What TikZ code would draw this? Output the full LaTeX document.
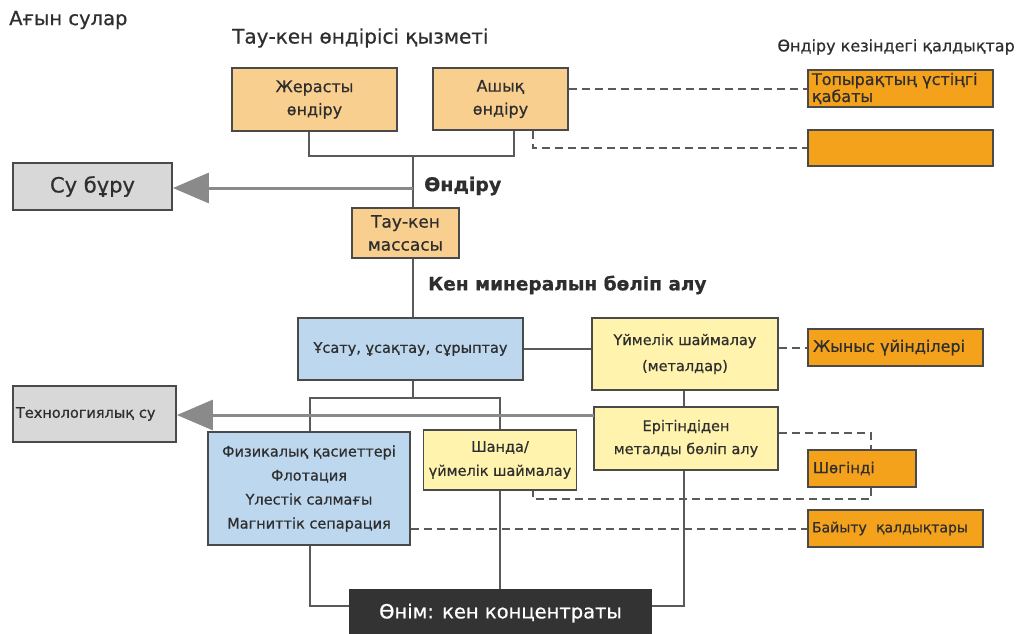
\documentclass[tikz,border=0pt]{standalone}
\usepackage{fontspec}
\setmainfont{DejaVu Sans}[FakeBold=0.6]
\usetikzlibrary{arrows.meta}
\definecolor{lorange}{HTML}{F9CF8F}
\definecolor{dorange}{HTML}{F4A11C}
\definecolor{lblue}{HTML}{BDD8EE}
\definecolor{lyellow}{HTML}{FFF3AD}
\definecolor{lgray}{HTML}{D8D8D8}
\definecolor{darkbox}{HTML}{333333}
\definecolor{txt}{HTML}{2E2E2E}
\definecolor{edge}{HTML}{4A4A4A}
\definecolor{conn}{HTML}{5A5A5A}
\definecolor{arrowgray}{HTML}{8A8A8A}
\tikzset{
  box/.style={draw=edge, line width=1.8pt, inner sep=2pt, text=txt, align=center,
    font=\fontsize{14}{24}\selectfont},
  lobox/.style={box, fill=lorange},
  dobox/.style={box, fill=dorange, align=left, font=\fontsize{16}{17}\selectfont},
  bbox/.style={box, fill=lblue},
  ybox/.style={box, fill=lyellow},
  gbox/.style={box, fill=lgray},
  solidline/.style={draw=conn, line width=2.2pt},
  dashline/.style={draw=conn, line width=2pt, dash pattern=on 8pt off 5pt},
  arrline/.style={draw=arrowgray, line width=3pt, -{Triangle[length=36pt,width=30pt]}},
  title/.style={text=txt, inner sep=0pt},
}
\begin{document}
\begin{tikzpicture}[x=1pt,y=-1pt]
\useasboundingbox (0,0) rectangle (1018,633);
% titles
\node[title, anchor=west, font=\fontsize{19.5}{22}\selectfont] (t1) at (9,20) {Ағын сулар};
\node[title, anchor=west, font=\fontsize{20}{22}\selectfont] (t2) at (232,38) {Тау-кен өндірісі қызметі};
\node[title, anchor=east, font=\fontsize{16}{18}\selectfont] (t3) at (1015,47) {Өндіру кезіндегі қалдықтар};
\node[title, anchor=west, font=\bfseries\fontsize{19}{22}\selectfont] (l1) at (424,186) {Өндіру};
\node[title, anchor=west, font=\bfseries\fontsize{18.5}{22}\selectfont] (l2) at (428,285) {Кен минералын бөліп алу};
% boxes
\node[lobox, minimum width=165, minimum height=63, font=\fontsize{16}{23}\selectfont] (zher) at (314.5,99.5) {Жерасты\\өндіру};
\node[lobox, minimum width=135, minimum height=62, font=\fontsize{16}{23}\selectfont] (ashyk) at (500.5,99) {Ашық\\өндіру};
\node[dobox, minimum width=185, minimum height=37, text width=177] (topyrak) at (900.5,88.5) {Топырақтың үстіңгі\\қабаты};
\node[dobox, minimum width=185, minimum height=36] (empty) at (900.5,148) {};
\node[gbox, minimum width=159, minimum height=47, font=\fontsize{21}{22}\selectfont] (subur) at (92.5,186.5) {Су бұру};
\node[lobox, minimum width=107, minimum height=50, font=\fontsize{17}{23}\selectfont] (massa) at (405.5,233) {Тау-кен\\массасы};
\node[bbox, minimum width=225, minimum height=62, font=\fontsize{14.5}{24}\selectfont] (usatu) at (410.5,349) {Ұсату, ұсақтау, сұрыптау};
\node[ybox, minimum width=186, minimum height=72, font=\fontsize{14.5}{26}\selectfont] (uimelik) at (685,354) {Үймелік шаймалау\\(металдар)};
\node[dobox, minimum width=175, minimum height=37, text width=165] (zhynys) at (895.5,347.5) {Жыныс үйінділері};
\node[gbox, minimum width=163, minimum height=56, align=left, text width=157, font=\fontsize{14.5}{16}\selectfont] (tech) at (94.5,414) {Технологиялық су};
\node[ybox, minimum width=184, minimum height=63, font=\fontsize{14.5}{23}\selectfont] (eritin) at (686,438.5) {Ерітіндіден\\металды бөліп алу};
\node[bbox, minimum width=202, minimum height=113, font=\fontsize{14.5}{24}\selectfont] (fiz) at (309,488.5) {Физикалық қасиеттері\\Флотация\\Үлестік салмағы\\Магниттік сепарация};
\node[ybox, minimum width=153, minimum height=60, inner sep=1pt, font=\fontsize{14.5}{24}\selectfont] (shanda) at (500,460) {Шанда/\\үймелік шаймалау};
\node[dobox, minimum width=108, minimum height=37, text width=98, font=\fontsize{15}{17}\selectfont] (shogindi) at (862,468.5) {Шөгінді};
\node[dobox, minimum width=175, minimum height=37, text width=167, font=\fontsize{14}{16}\selectfont] (bayytu) at (895.5,528.5) {Байыту \ қалдықтары};
\node[box, draw=darkbox, fill=darkbox, text=white, minimum width=301, minimum height=46, font=\fontsize{19.5}{22}\selectfont] (onim) at (500.5,613) {Өнім: кен концентраты};
% junction coordinates
\coordinate (j1) at (413,156);
\coordinate (a1) at (413,188);
\coordinate (d1) at (533,148);
\coordinate (j2) at (413,398);
\coordinate (a2) at (594,415);
\coordinate (c3) at (871,433);
\coordinate (c4) at (871,499);
\coordinate (c5) at (533,499);
\coordinate (b1) at (310,606);
\coordinate (b2) at (684,606);
% solid connectors
\draw[solidline] ([xshift=-5.5pt]zher.south) |- (j1) -| ([xshift=13.5pt]ashyk.south);
\draw[solidline] (j1) -- (j1 |- massa.north);
\draw[solidline] (j1 |- massa.south) -- (j1 |- usatu.north);
\draw[solidline] (usatu.east) -- (usatu.east -| uimelik.west);
\draw[solidline] (uimelik.south -| b2) -- (eritin.north -| b2);
\draw[solidline] (j2 |- usatu.south) -- (j2);
\draw[solidline] (fiz.north -| b1) |- (shanda.north |- j2) -- (shanda.north);
\draw[solidline] (eritin.south -| b2) -- (b2) -- (b2 -| onim.east);
\draw[solidline] (fiz.south -| b1) -- (b1) -- (b1 -| onim.west);
\draw[solidline] (shanda.south) -- (shanda.south |- onim.north);
% arrows
\draw[arrline] (a1) -- (a1 -| subur.east);
\draw[arrline] (a2) -- (a2 -| tech.east);
% dashed
\draw[dashline] (ashyk.east |- topyrak.west) -- (topyrak.west);
\draw[dashline] (d1 |- ashyk.south) -- (d1) -- (d1 -| empty.west);
\draw[dashline] (uimelik.east |- zhynys.west) -- (zhynys.west);
\draw[dashline] (c3 -| eritin.east) -- (c3) -- (c3 |- shogindi.north);
\draw[dashline] (c4 |- shogindi.south) -- (c4) -- (c5) -- (c5 |- shanda.south);
\draw[dashline] (fiz.east |- bayytu.west) -- (bayytu.west);
\end{tikzpicture}
\end{document}
